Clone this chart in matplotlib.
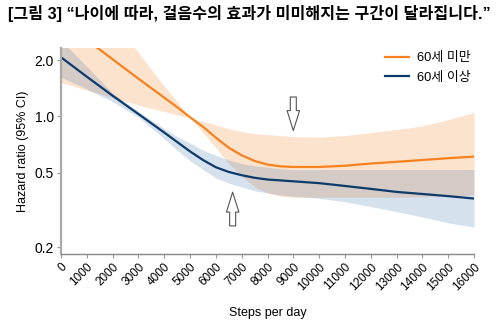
import numpy as np
import matplotlib
matplotlib.use("Agg")
from matplotlib import pyplot as plt
from matplotlib.ticker import FixedLocator, FixedFormatter, NullLocator

plt.rcParams['font.family'] = ['Liberation Sans', 'Noto Sans CJK KR']

title = "[그림 3] “나이에 따라, 걸음수의 효과가 미미해지는 구간이 달라집니다.”"

tick_steps = [0, 1000, 2000, 3000, 4000, 5000, 6000, 7000, 8000,
              9000, 10000, 11000, 12000, 13000, 14000, 15000, 16000]

# readings are denser where the curves bend
steps = [0, 1000, 2000, 3000, 4000, 4500, 5000, 5500, 6000, 6500, 7000,
         7500, 8000, 8500, 9000, 10000, 11000, 12000, 13000, 14000, 15000, 16000]

# under 60
young_hr = [3.26, 2.56, 2.02, 1.59, 1.26, 1.12, 0.99, 0.88, 0.77, 0.68, 0.62,
            0.578, 0.553, 0.541, 0.537, 0.537, 0.545, 0.56, 0.572, 0.585, 0.598, 0.61]
young_ci_a = [7.5, 5.0, 3.3, 2.19, 1.45, 1.2, 0.98, 0.82, 0.68, 0.56, 0.48,
              0.42, 0.39, 0.375, 0.37, 0.37, 0.37, 0.37, 0.37, 0.372, 0.375, 0.38]
young_ci_b = [1.52, 1.38, 1.26, 1.15, 1.06, 1.02, 0.98, 0.94, 0.9, 0.86, 0.83,
              0.81, 0.8, 0.79, 0.78, 0.775, 0.79, 0.82, 0.85, 0.89, 0.96, 1.05]

# 60 and over
old_hr = [2.07, 1.63, 1.29, 1.03, 0.82, 0.73, 0.65, 0.585, 0.535, 0.505, 0.485,
          0.47, 0.46, 0.455, 0.45, 0.44, 0.425, 0.41, 0.395, 0.385, 0.375, 0.364]
old_ci_hi = [2.55, 1.85, 1.33, 1.06, 0.86, 0.78, 0.72, 0.66, 0.62, 0.585, 0.56,
             0.545, 0.535, 0.525, 0.52, 0.52, 0.52, 0.52, 0.52, 0.52, 0.52, 0.52]
old_ci_lo = [1.62, 1.4, 1.2, 0.99, 0.76, 0.66, 0.58, 0.52, 0.47, 0.44, 0.42,
             0.4, 0.39, 0.38, 0.375, 0.365, 0.35, 0.33, 0.31, 0.29, 0.27, 0.256]

labels = ["60세 미만", "60세 이상"]
orange = "#F5821F"
navy = "#0C3A6B"

fig = plt.figure(figsize=(5, 3.3), dpi=100)
ax = fig.add_axes([0.122, 0.2303, 0.826, 0.6242])

ax.fill_between(steps, young_ci_a, young_ci_b, color=orange, alpha=0.22, lw=0)
ax.fill_between(steps, old_ci_lo, old_ci_hi, color="#4678B4", alpha=0.22, lw=0)
ax.plot(steps, young_hr, color=orange, lw=1.6, label=labels[0])
ax.plot(steps, old_hr, color=navy, lw=1.6, label=labels[1])

ax.set_yscale("log")
ax.set_ylim(0.184, 2.32)
ax.set_xlim(0, 16000)

yt = [0.2, 0.5, 1.0, 2.0]
ax.yaxis.set_major_locator(FixedLocator(yt))
ax.yaxis.set_major_formatter(FixedFormatter([f"{v:.1f}" for v in yt]))
ax.yaxis.set_minor_locator(NullLocator())
ax.set_xticks(tick_steps)
ax.set_xticklabels([str(s) for s in tick_steps], rotation=45, ha="right",
                   rotation_mode="anchor", fontsize=8.5)
ax.tick_params(axis="y", labelsize=10, length=3, color="#999999", pad=2)
ax.tick_params(axis="x", length=3, color="#999999", pad=2)

for s in ["top", "right"]:
    ax.spines[s].set_visible(False)
ax.spines["left"].set_color("#aaaaaa")
ax.spines["left"].set_linewidth(1.6)
ax.spines["bottom"].set_color("#888888")
ax.spines["bottom"].set_linewidth(1.0)

ax.set_xlabel("Steps per day", fontsize=9, labelpad=10)
ax.set_ylabel("Hazard ratio (95% CI)", fontsize=9, labelpad=4)

# hollow arrows marking where the effect flattens
arrow = dict(arrowstyle="simple,head_length=1.2,head_width=0.75,tail_width=0.36",
             fc="white", ec="#555555", lw=0.8, shrinkA=0, shrinkB=0,
             mutation_scale=12)
ax.annotate("", xy=(9000, 0.84), xytext=(9000, 1.27), arrowprops=arrow)
ax.annotate("", xy=(6650, 0.394), xytext=(6650, 0.26), arrowprops=arrow)

ax.legend(loc="upper right", bbox_to_anchor=(1.02, 1.035), frameon=False,
          fontsize=9.3, handlelength=1.9, labelspacing=0.55, handletextpad=0.6)

fig.text(0.016, 0.96, title, fontsize=11.6, fontweight="bold", va="center", ha="left")

fig.savefig("out.png", dpi=100)
